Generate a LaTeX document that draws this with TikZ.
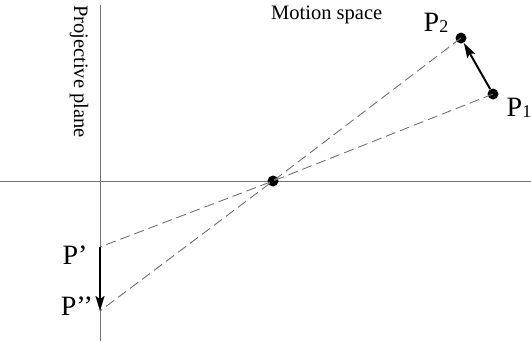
\documentclass[tikz,border=0pt]{standalone}
\usepackage{fontspec}
\setmainfont{Liberation Serif}
\usetikzlibrary{arrows.meta}
\begin{document}
\begin{tikzpicture}[x=1pt,y=-1pt,
  axis/.style={draw=black!55,line width=1pt},
  ray/.style={draw=black!55,line width=0.9pt,dash pattern=on 10pt off 5pt},
  dot/.style={circle,fill=black,inner sep=0pt,minimum size=11pt},
  move/.style={line width=2pt,-{Stealth[length=15pt,width=9pt,inset=3pt]}},
  lbl/.style={font=\fontsize{28}{30}\selectfont,inner sep=0pt},
  title/.style={font=\fontsize{20.5}{22}\selectfont,inner sep=0pt}]
\useasboundingbox (0,0) rectangle (531,341);
\coordinate (vt) at (100,5);
\coordinate (vb) at (100,341);
\coordinate (hl) at (0,181);
\coordinate (hr) at (531,181);
\draw[axis] (vt) -- (vb);
\draw[axis] (hl) -- (hr);
\node[dot] (O) at (273,181) {};
\node[dot] (P2) at (461,38) {};
\node[dot] (P1) at (493,94) {};
\coordinate (Pa) at (100,247);
\coordinate (Pb) at (100,311);
\draw[ray] (P1.center) -- (O.center) -- (Pa);
\draw[ray] (P2.center) -- (O.center) -- (Pb);
\draw[move] (P1) -- (P2);
\draw[move] (Pa) -- (Pb);
\node[lbl] (lP2) at (436,23) {P\raisebox{-0.5pt}{\fontsize{18}{19}\selectfont 2}};
\node[lbl] (lP1) at (519,108) {P\raisebox{-0.5pt}{\fontsize{18}{19}\selectfont 1}};
\node[lbl] (lPa) at (75,255) {P’};
\node[lbl] (lPb) at (77,306) {P’’};
\node[title,anchor=west] (ms) at (271,15) {Motion space};
\node[title,rotate=-90,anchor=west] (pp) at (79,5) {Projective plane};
\end{tikzpicture}
\end{document}
